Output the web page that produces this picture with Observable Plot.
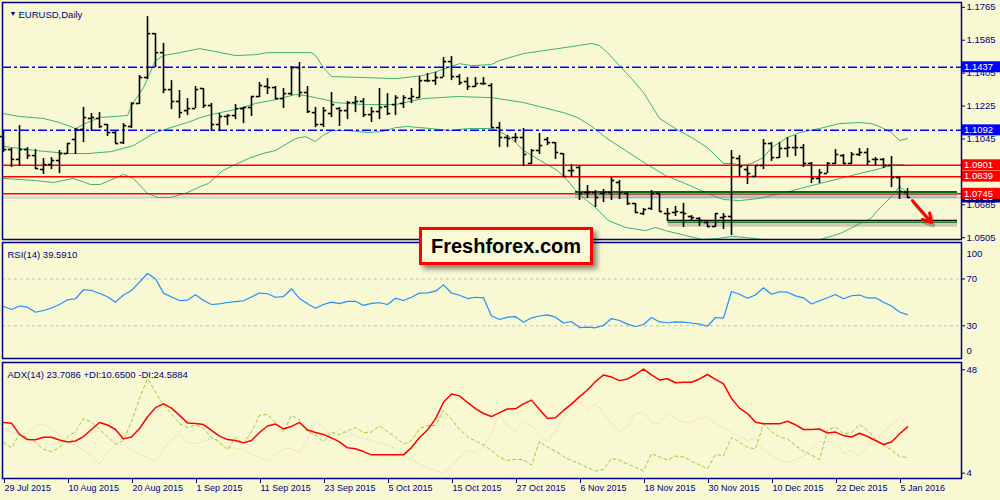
<!DOCTYPE html>
<html>
<head>
<meta charset="utf-8">
<script src="https://cdn.jsdelivr.net/npm/d3@7"></script>
<script src="https://cdn.jsdelivr.net/npm/@observablehq/plot@0.6"></script>
<style>
  html, body { margin: 0; padding: 0; background: #F8F8D2; }
  #chart { position: relative; width: 1000px; height: 500px; overflow: hidden; background: #F8F8D2; }
  .pane { position: absolute; left: 0; }
  .pane svg { display: block; overflow: visible; }
  #brand { position: absolute; left: 419px; top: 227px; width: 168px; height: 32px; border: 3px solid #FF0000;
    background: #FAFAD6; box-shadow: 4px 4px 5px rgba(0,0,0,0.45);
    font: bold 20px "Liberation Sans", Arial, sans-serif; color: #000; text-align: center; line-height: 32px; }
</style>
</head>
<body>
<div id="chart"></div>
<script>
// ---------------- DATA ----------------
const tickLabels = ["29 Jul 2015","10 Aug 2015","20 Aug 2015","1 Sep 2015","11 Sep 2015","23 Sep 2015","5 Oct 2015",
  "15 Oct 2015","27 Oct 2015","6 Nov 2015","18 Nov 2015","30 Nov 2015","10 Dec 2015","22 Dec 2015","5 Jan 2016"];

const open = [1.1058,1.0987,1.0933,1.0987,1.0954,1.0878,1.0905,1.0927,1.0965,1.1042,
1.1097,1.1157,1.1157,1.1124,1.1080,1.1025,1.1113,1.1239,1.1381,1.1621,
1.1517,1.1315,1.1250,1.1200,1.1211,1.1321,1.1228,1.1124,1.1168,1.1173,
1.1211,1.1217,1.1277,1.1332,1.1326,1.1266,1.1293,1.1435,1.1299,1.1189,
1.1124,1.1184,1.1211,1.1200,1.1244,1.1250,1.1178,1.1195,1.1222,1.1233,
1.1239,1.1266,1.1271,1.1364,1.1364,1.1381,1.1468,1.1386,1.1359,1.1332,
1.1348,1.1337,1.1107,1.1053,1.1053,1.1053,1.0911,1.0982,1.1042,1.1025,
1.0965,1.0872,1.0889,1.0752,1.0752,1.0747,1.0752,1.0807,1.0747,1.0692,
1.0637,1.0665,1.0747,1.0637,1.0643,1.0643,1.0621,1.0610,1.0588,1.0566,
1.0615,1.0621,1.0938,1.0878,1.0840,1.0900,1.1020,1.0943,1.0993,1.0998,
1.0998,1.0911,1.0829,1.0856,1.0911,1.0954,1.0911,1.0960,1.0971,1.0933,
1.0933,1.0900,1.0834,1.0752];
const high = [1.1086,1.0993,1.1118,1.0998,1.0987,1.0938,1.0943,1.0982,1.1020,1.1102,
1.1217,1.1184,1.1189,1.1124,1.1091,1.1129,1.1244,1.1392,1.1714,1.1621,
1.1567,1.1364,1.1310,1.1266,1.1332,1.1321,1.1239,1.1184,1.1178,1.1233,
1.1217,1.1277,1.1353,1.1375,1.1332,1.1321,1.1441,1.1463,1.1332,1.1217,
1.1217,1.1299,1.1217,1.1250,1.1277,1.1266,1.1217,1.1321,1.1293,1.1282,
1.1282,1.1321,1.1386,1.1403,1.1408,1.1490,1.1496,1.1397,1.1381,1.1381,
1.1381,1.1348,1.1135,1.1064,1.1075,1.1102,1.0987,1.1075,1.1053,1.1025,
1.0965,1.0905,1.0894,1.0790,1.0763,1.0769,1.0834,1.0818,1.0752,1.0692,
1.0665,1.0763,1.0747,1.0665,1.0676,1.0692,1.0626,1.0615,1.0599,1.0637,
1.0637,1.0982,1.0954,1.0894,1.0900,1.1042,1.1025,1.1025,1.1053,1.1064,
1.1015,1.0916,1.0878,1.0916,1.0987,1.0960,1.0971,1.0993,1.0993,1.0943,
1.0938,1.0949,1.0840,1.0774];
const low = [1.0971,1.0889,1.0894,1.0933,1.0878,1.0851,1.0878,1.0856,1.0960,1.0960,
1.1025,1.1086,1.1102,1.1058,1.1020,1.1015,1.1102,1.1233,1.1370,1.1435,
1.1293,1.1206,1.1157,1.1173,1.1211,1.1211,1.1086,1.1086,1.1118,1.1151,
1.1129,1.1168,1.1271,1.1288,1.1260,1.1211,1.1282,1.1271,1.1184,1.1107,
1.1107,1.1162,1.1113,1.1151,1.1189,1.1162,1.1135,1.1151,1.1173,1.1173,
1.1211,1.1239,1.1266,1.1353,1.1337,1.1381,1.1364,1.1337,1.1310,1.1326,
1.1337,1.1102,1.0998,1.0998,1.1025,1.0894,1.0905,1.0960,1.1009,1.0933,
1.0834,1.0834,1.0708,1.0719,1.0670,1.0697,1.0708,1.0714,1.0681,1.0637,
1.0626,1.0654,1.0643,1.0594,1.0621,1.0561,1.0594,1.0566,1.0561,1.0561,
1.0550,1.0517,1.0840,1.0796,1.0834,1.0878,1.0922,1.0938,1.0943,1.0949,
1.0889,1.0801,1.0801,1.0856,1.0905,1.0905,1.0905,1.0949,1.0900,1.0900,
1.0883,1.0779,1.0714,1.0719];
const close = [1.0987,1.0933,1.0987,1.0954,1.0883,1.0905,1.0927,1.0965,1.1020,1.1097,
1.1162,1.1162,1.1113,1.1080,1.1020,1.1118,1.1239,1.1381,1.1621,1.1517,
1.1315,1.1250,1.1189,1.1211,1.1315,1.1228,1.1124,1.1168,1.1173,1.1211,
1.1217,1.1277,1.1337,1.1326,1.1266,1.1293,1.1435,1.1299,1.1195,1.1124,
1.1200,1.1233,1.1200,1.1244,1.1250,1.1178,1.1195,1.1217,1.1184,1.1271,
1.1271,1.1277,1.1364,1.1364,1.1381,1.1468,1.1386,1.1353,1.1332,1.1348,
1.1348,1.1107,1.1053,1.1047,1.1053,1.0960,1.0982,1.1009,1.1025,1.0971,
1.0840,1.0872,1.0747,1.0752,1.0725,1.0752,1.0818,1.0752,1.0692,1.0643,
1.0659,1.0747,1.0648,1.0637,1.0648,1.0637,1.0615,1.0599,1.0566,1.0637,
1.0621,1.0943,1.0894,1.0856,1.0900,1.1020,1.0943,1.0993,1.0998,1.0998,
1.0911,1.0829,1.0861,1.0911,1.0960,1.0911,1.0960,1.0971,1.0922,1.0933,
1.0900,1.0834,1.0758,1.0725];

// Bollinger bands: [bar index, price]
const bbUpper = [[0,1.1184],[2,1.1168],[5,1.1157],[7,1.1135],[9,1.1102],[10.5,1.1135],[12,1.1162],[15.5,1.1173],[16,1.1228],[17.5,1.1326],[19,1.1474],[20,1.1501],[22,1.1517],[24.5,1.1539],[26.5,1.1523],[29,1.1501],[31.5,1.1506],[33,1.1517],[38.5,1.1517],[39,1.1501],[40,1.1435],[41,1.1386],[45,1.1381],[49,1.1375],[52.5,1.1392],[54.5,1.1419],[57,1.1457],[58.5,1.1446],[61,1.1452],[62,1.1474],[65,1.1512],[67.5,1.1528],[71,1.1550],[73.5,1.1567],[74.5,1.1556],[75.5,1.1517],[77,1.1446],[78.5,1.1375],[80,1.1299],[82,1.1157],[84,1.1102],[86,1.1053],[88,1.0998],[90,1.0911],[91,1.0911],[92.5,1.0900],[93.5,1.0911],[95,1.0943],[96,1.0998],[98,1.1053],[99.5,1.1080],[102,1.1102],[104.5,1.1129],[107,1.1135],[108.5,1.1129],[109.5,1.1113],[111,1.1080],[112,1.1036],[113,1.1047]];
const bbMiddle = [[0,1.1004],[4,1.0982],[8,1.0965],[10.5,1.0965],[13.5,1.0976],[16.25,1.1009],[18.75,1.1075],[20.5,1.1102],[23,1.1135],[24.6,1.1162],[26.5,1.1184],[29,1.1206],[31.5,1.1239],[34,1.1260],[36.5,1.1288],[37.75,1.1282],[40.25,1.1260],[41.5,1.1244],[45,1.1233],[49,1.1233],[52.5,1.1266],[56.75,1.1277],[61,1.1271],[65,1.1244],[67,1.1222],[70,1.1189],[71.75,1.1162],[73.4,1.1118],[75.25,1.1053],[77.75,1.0982],[80.25,1.0911],[82.75,1.0845],[85.25,1.0801],[87.75,1.0752],[90,1.0714],[92,1.0708],[94.4,1.0719],[96,1.0736],[97.75,1.0752],[99.6,1.0774],[102,1.0801],[104.6,1.0829],[107,1.0856],[109.6,1.0883],[111.25,1.0905],[112.5,1.0905]];
const bbLower = [[0,1.0829],[3.75,1.0818],[6.25,1.0807],[8.75,1.0829],[10.9,1.0796],[12.1,1.0796],[15,1.0851],[16.25,1.0829],[18,1.0747],[19.25,1.0725],[20.9,1.0725],[23,1.0752],[24.6,1.0785],[25.6,1.0801],[27.4,1.0872],[30.6,1.0938],[32.4,1.0965],[34,1.0982],[36.5,1.1047],[37.75,1.1058],[39,1.1031],[39.9,1.1064],[41.1,1.1091],[43.1,1.1091],[45.6,1.1080],[47.4,1.1086],[49,1.1107],[50.5,1.1113],[53.4,1.1102],[55.9,1.1091],[58,1.1102],[60.9,1.1102],[61.75,1.1091],[63.4,1.1053],[65,1.0982],[67.1,1.0927],[69.25,1.0872],[70.5,1.0818],[71.75,1.0752],[72.75,1.0714],[74,1.0670],[75.6,1.0599],[77.75,1.0561],[80.25,1.0544],[81.5,1.0561],[82.75,1.0544],[85.25,1.0517],[87.4,1.0495],[89.4,1.0501],[91.1,1.0512],[92.75,1.0506],[94.9,1.0495],[98.4,1.0473],[100.25,1.0479],[102.1,1.0495],[104.6,1.0528],[107.1,1.0583],[108.4,1.0610],[109.6,1.0670],[110.9,1.0725],[112,1.0785],[113,1.0752]];

const rsi = [46.5,43.9,46.9,45.9,41.6,43.1,45.2,48.2,52.2,53.1,
60.8,60.2,57.6,54.8,50.2,56.3,60.2,67.4,74.7,70.2,
57.9,54.6,51.6,52.0,56.5,51.6,48.2,48.8,49.9,50.6,
51.4,54.6,58.0,57.4,54.4,55.0,61.5,53.3,48.8,45.0,
48.2,50.2,48.9,50.9,51.0,47.4,49.2,49.7,48.2,53.6,
51.6,54.4,58.0,58.2,59.6,65.0,58.0,56.1,53.3,54.4,
53.9,38.4,35.4,37.4,37.9,33.1,36.8,38.4,39.4,37.4,
32.4,33.7,28.5,28.8,28.3,30.3,36.2,34.5,31.4,29.4,
31.1,37.1,33.3,32.6,33.3,33.1,32.4,31.4,29.6,37.1,
36.5,59.3,57.0,53.5,56.3,62.5,57.0,59.1,58.7,55.6,
53.9,48.6,51.4,54.0,56.8,53.1,55.7,56.3,53.8,53.9,
50.2,46.9,41.8,39.591];

const adx = [25.6,25.3,20.5,18.3,18.2,19.3,19.3,18.1,17.3,17.7,
19.6,22.6,25.6,24.5,22.6,18.6,19.4,23.0,27.9,31.9,
33.5,31.7,28.6,25.4,25.1,24.7,22.2,19.8,18.3,17.9,
16.9,17.9,21.3,24.1,24.9,22.9,23.9,25.6,22.4,21.3,
20.5,19.0,17.3,14.8,14.4,13.2,11.8,11.8,11.8,11.8,
11.8,14.9,19.2,22.4,27.1,34.2,37.7,36.9,34.1,31.5,
29.4,28.1,29.8,31.3,31.4,33.5,35.1,31.1,27.3,27.6,
30.7,33.4,36.6,39.4,43.0,45.8,44.9,43.4,44.1,46.0,
48.3,45.8,43.7,44.2,42.5,42.7,42.7,44.1,46.0,43.9,
42.0,35.8,31.7,29.4,25.7,25.0,25.0,25.0,26.1,24.6,
22.6,22.6,22.8,21.1,21.5,20.0,19.4,21.0,19.6,17.9,
16.2,17.3,20.7,23.7086];
const plusDI = [17.1,14.8,20.7,19.1,17.1,14.1,13.2,14.9,19.6,21.7,
27.3,25.6,22.6,19.6,16.5,17.9,26.0,35.8,44.2,38.5,
32.8,29.4,25.1,23.4,24.5,23.0,19.2,17.5,13.9,19.2,
16.5,21.7,28.6,29.0,25.7,21.5,28.6,26.6,21.7,20.3,
17.3,21.5,20.3,22.0,23.4,21.3,21.5,24.1,21.7,19.4,
16.4,17.9,23.0,24.3,24.3,30.7,26.9,22.6,19.6,17.7,
16.0,13.7,10.7,9.4,10.0,9.7,7.5,17.5,15.1,13.4,
11.1,9.4,8.1,6.4,4.9,5.6,10.3,9.6,7.9,6.6,
4.9,12.4,10.9,9.6,11.3,10.9,9.2,7.5,5.9,12.0,
11.5,19.2,17.3,14.9,14.4,25.0,21.7,19.4,18.6,15.8,
13.4,11.7,9.8,22.4,23.7,20.8,21.3,24.7,22.2,18.6,
15.8,13.9,11.1,10.65];
const minusDI = [22.8,21.5,21.1,20.9,23.7,25.1,22.8,20.0,17.1,15.8,
13.9,11.5,7.7,12.8,16.2,16.6,13.9,12.0,10.7,9.0,
14.3,18.1,21.1,16.8,16.6,17.5,18.8,16.6,14.9,14.7,
14.1,12.0,10.7,9.4,11.7,14.5,14.5,12.8,18.3,26.0,
23.9,20.0,22.6,21.5,20.0,18.8,17.9,16.8,16.0,14.3,
12.0,9.4,7.7,6.4,5.1,3.9,7.3,10.7,13.7,12.8,
14.9,21.3,29.0,24.3,21.7,26.0,24.3,20.5,17.1,22.2,
28.1,32.0,34.5,31.1,33.7,29.4,25.1,21.7,23.9,29.4,
29.8,25.6,24.7,29.8,27.3,25.6,25.6,27.3,27.7,25.1,
23.2,21.7,19.6,17.9,18.8,13.7,11.5,9.8,8.6,9.8,
11.5,14.5,17.5,17.5,17.5,12.4,13.7,11.5,15.8,17.5,
21.3,24.7,27.7,24.5884];

// 1.0865 lies fully under the 1.0901 / 1.0839 level labels in the reference, so it is not drawn
const priceTicks = [1.1765, 1.1585, 1.1405, 1.1225, 1.1045, 1.0685, 1.0505];
const blueLevels = [1.1437, 1.1092];
const redLevels = [1.0901, 1.0839, 1.0745];
const bidPrice = 1.0725;
const supportLevels = [1.0751, 1.0595];
const supportFrom = [71.5, 83.1];
const supportTo = [119.25, 119.25];
const arrowMove = [{x1: 113.6, y1: 1.0708, x2: 116.0, y2: 1.0588}];
const labelLevels = [1.0725, 1.1437, 1.1092, 1.0901, 1.0839, 1.0745];
const rsiLevels = [70, 30];
const adxScaleLabels = [48, 4];

// ---------------- STYLE ----------------
const NAVY = "#000080";
const FONT = "'Liberation Sans', Arial, sans-serif";
const labelFill = ["#000080", "#0000FF", "#0000FF", "#FF0000", "#FF0000", "#FF0000"];
const X = {domain: [0, 119.5], range: [3, 959], axis: null};
const baseStyle = {background: "transparent", fontFamily: FONT, fontSize: "9px", color: NAVY, overflow: "visible"};

const bars = open.map((o, i) => ({i, o, h: high[i], l: low[i], c: close[i]}));
const series = (arr) => arr.map((v, i) => ({i, v}));
const supports = supportLevels.map((p, k) => ({p, a: supportFrom[k], b: supportTo[k]}));
const tickIdx = tickLabels.map((_, k) => k * 8);

const chart = document.getElementById("chart");
function pane(svg, top) {
  const d = document.createElement("div");
  d.className = "pane"; d.style.top = top + "px";
  d.appendChild(svg); chart.appendChild(d);
  return svg;
}

// ---------------- MAIN PRICE PANE ----------------
const main = Plot.plot({
  width: 1000, height: 240, marginTop: 2, marginBottom: 1, marginLeft: 2, marginRight: 39,
  style: baseStyle,
  x: X,
  y: {domain: [1.0505, 1.1765], range: [237.2, 6.8], axis: null},
  marks: [
    Plot.ruleY([bidPrice], {stroke: "#CFCFCF", strokeWidth: 2}),
    Plot.line(bbUpper, {x: d => d[0], y: d => d[1], stroke: "#3CB371", strokeWidth: 1, clip: true}),
    Plot.line(bbMiddle, {x: d => d[0], y: d => d[1], stroke: "#3CB371", strokeWidth: 1, clip: true}),
    Plot.line(bbLower, {x: d => d[0], y: d => d[1], stroke: "#3CB371", strokeWidth: 1, clip: true}),
    Plot.ruleY(blueLevels, {stroke: "#0000FF", strokeWidth: 1.5, strokeDasharray: "9,3,3,3"}),
    Plot.ruleY(redLevels, {stroke: "#FF0000", strokeWidth: 1.5}),
    Plot.ruleY(supports, {y: "p", x1: "a", x2: "b", stroke: "#777", strokeOpacity: 0.35, strokeWidth: 5, dy: 3}),
    Plot.ruleY(supports, {y: "p", x1: "a", x2: "b", stroke: "#000", strokeWidth: 3}),
    Plot.ruleY(supports, {y: "p", x1: "a", x2: "b", stroke: "#1ED21E", strokeWidth: 1.5, dy: 0.5}),
    Plot.ruleX(bars, {x: "i", y1: "l", y2: "h", stroke: "#000", strokeWidth: 1.6}),
    Plot.ruleY(bars, {y: "o", x1: d => d.i - 0.4, x2: "i", stroke: "#000", strokeWidth: 1.6}),
    Plot.ruleY(bars, {y: "c", x1: "i", x2: d => d.i + 0.4, stroke: "#000", strokeWidth: 1.6}),
    Plot.arrow(arrowMove, {x1: "x1", y1: "y1", x2: "x2", y2: "y2", stroke: "#555", strokeOpacity: 0.4, strokeWidth: 3.5, headLength: 9, dx: 2, dy: 3}),
    Plot.arrow(arrowMove, {x1: "x1", y1: "y1", x2: "x2", y2: "y2", stroke: "#FF0000", strokeWidth: 3, headLength: 9}),
    Plot.axisY(priceTicks, {anchor: "right", label: null, tickSize: 3, tickPadding: 2, tickFormat: d => d.toFixed(4), fontSize: 9.5}),
    Plot.text(["\u25BC"], {frameAnchor: "top-left", dx: 7, dy: 8.5, fontSize: 7, fill: NAVY}),
    Plot.text(["EURUSD,Daily"], {frameAnchor: "top-left", dx: 16, dy: 9, textAnchor: "start", fill: NAVY, fontSize: 9.5}),
    Plot.frame({stroke: NAVY, strokeWidth: 1.5})
  ]
});
pane(main, 0);
{
  const yS = main.scale("y");
  const g = d3.select(main).append("g")
    .attr("font-family", FONT).attr("font-size", 9.5).attr("text-anchor", "start");
  labelLevels.forEach((v, k) => {
    const y = yS.apply(v);
    g.append("rect").attr("x", 962).attr("y", y - 5.5).attr("width", 38).attr("height", 11).attr("fill", labelFill[k]);
    g.append("text").attr("x", 964).attr("y", y).attr("dy", "0.35em").attr("text-anchor", "start")
      .attr("fill", "#fff").text(v.toFixed(4));
  });
}

// ---------------- RSI PANE ----------------
const rsiPlot = Plot.plot({
  width: 1000, height: 120, marginTop: 2, marginBottom: 2, marginLeft: 2, marginRight: 39,
  style: baseStyle,
  x: X,
  y: {domain: [0, 100], range: [120.4, 3.4], axis: null},
  marks: [
    Plot.ruleY(rsiLevels, {stroke: "#C0C0C0", strokeDasharray: "3,3", strokeWidth: 1}),
    Plot.line(series(rsi), {x: "i", y: "v", stroke: "#1E90FF", strokeWidth: 1.2}),
    Plot.axisY(rsiLevels, {anchor: "right", label: null, tickSize: 3, tickPadding: 2, fontSize: 9.5}),
    Plot.text(["100"], {frameAnchor: "top-right", dx: 5, dy: 7.3, textAnchor: "start", fill: NAVY, fontSize: 9.5}),
    Plot.text(["0"], {frameAnchor: "bottom-right", dx: 5, dy: -5, textAnchor: "start", fill: NAVY, fontSize: 9.5}),
    Plot.text(["RSI(14) 39.5910"], {frameAnchor: "top-left", dx: 5, dy: 9, textAnchor: "start", fill: NAVY, fontSize: 9.5}),
    Plot.frame({stroke: NAVY, strokeWidth: 1.5})
  ]
});
pane(rsiPlot, 240);

// ---------------- ADX PANE ----------------
const adxPlot = Plot.plot({
  width: 1000, height: 140, marginTop: 2, marginBottom: 22, marginLeft: 2, marginRight: 39,
  style: baseStyle,
  x: X,
  y: {domain: [4, 48], range: [112.7, 9.3], axis: null},
  marks: [
    Plot.line(series(minusDI), {x: "i", y: "v", stroke: "#F2D9BF", strokeWidth: 1, strokeDasharray: "2,2"}),
    Plot.line(series(plusDI), {x: "i", y: "v", stroke: "#9ACD32", strokeWidth: 1, strokeDasharray: "3,3"}),
    Plot.line(series(adx), {x: "i", y: "v", stroke: "#FF0000", strokeWidth: 1.5}),
    Plot.axisY(adxScaleLabels, {anchor: "right", label: null, tickSize: 3, tickPadding: 2, fontSize: 9.5}),
    Plot.axisX(tickIdx, {anchor: "bottom", label: null, tickSize: 5, tickPadding: 1, tickFormat: d => tickLabels[d / 8],
      textAnchor: "start", dx: 1, fontSize: 9}),
    Plot.text(["ADX(14) 23.7086 +DI:10.6500 -DI:24.5884"], {frameAnchor: "top-left", dx: 5, dy: 9, textAnchor: "start", fill: NAVY, fontSize: 9.5}),
    Plot.frame({stroke: NAVY, strokeWidth: 1.5})
  ]
});
pane(adxPlot, 360);

// ---------------- WATERMARK ----------------
const brand = document.createElement("div");
brand.id = "brand"; brand.textContent = "Freshforex.com";
chart.appendChild(brand);
</script>
</body>
</html>
